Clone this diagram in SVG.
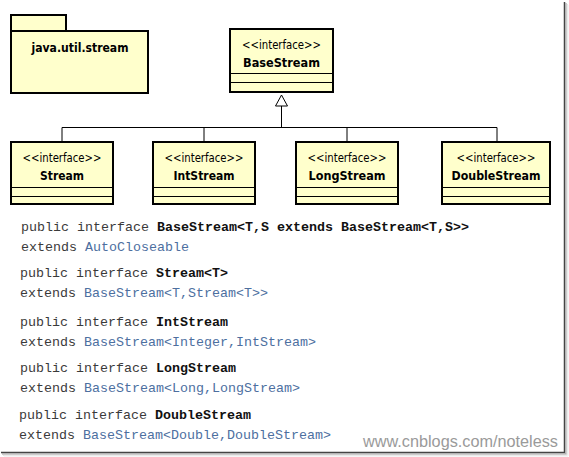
<svg xmlns="http://www.w3.org/2000/svg" width="569" height="457" viewBox="0 0 569 457">
<style>
.box{fill:#ffffcc;stroke:#000;stroke-width:2}
.sep{stroke:#000;stroke-width:1}
.st{font-family:"DejaVu Sans","Liberation Sans",sans-serif;font-size:12px;fill:#000;text-anchor:middle}
.nm{font-family:"DejaVu Sans","Liberation Sans",sans-serif;font-size:13px;font-weight:bold;fill:#000;text-anchor:middle}
.conn{fill:none;stroke:#000;stroke-width:1}
.code{font-family:"Liberation Mono","Courier New",monospace;font-size:13.33px;fill:#3a3a3a}
.b{font-weight:bold;fill:#111}
.t{fill:#4d6f9f}
.wm{font-family:"Liberation Sans",Arial,sans-serif;font-size:16px;fill:#9a9a9a}
</style>
<rect width="569" height="457" fill="#fff"/>
<g id="package">
<rect class="box" x="11" y="15" width="55" height="16"/>
<rect class="box" x="11" y="31" width="137" height="62"/>
<text class="nm" x="80" y="52" textLength="97" lengthAdjust="spacingAndGlyphs">java.util.stream</text>
</g>
<g id="connectors">
<line class="conn" x1="281.5" y1="106" x2="281.5" y2="127.5"/>
<polyline class="conn" points="62,142 62,127.5 497,127.5 497,142"/>
<line class="conn" x1="204" y1="127.5" x2="204" y2="142"/>
<line class="conn" x1="347" y1="127.5" x2="347" y2="142"/>
<polygon points="281.5,95 275.5,106 287.5,106" fill="#fff" stroke="#000" stroke-width="1"/>
</g>
<g id="BaseStream">
<rect class="box" x="230" y="29" width="103" height="63"/>
<line class="sep" x1="230" y1="73.5" x2="333" y2="73.5"/>
<line class="sep" x1="230" y1="82.5" x2="333" y2="82.5"/>
<text class="st" x="281.5" y="49" textLength="79" lengthAdjust="spacingAndGlyphs">&lt;&lt;interface&gt;&gt;</text>
<text class="nm" x="281.5" y="66.5" textLength="77" lengthAdjust="spacingAndGlyphs">BaseStream</text>
</g>
<g id="Stream">
<rect class="box" x="11" y="142" width="102" height="62"/>
<line class="sep" x1="11" y1="187.5" x2="113" y2="187.5"/>
<line class="sep" x1="11" y1="196.5" x2="113" y2="196.5"/>
<text class="st" x="62" y="162" textLength="79" lengthAdjust="spacingAndGlyphs">&lt;&lt;interface&gt;&gt;</text>
<text class="nm" x="62" y="179.5" textLength="44" lengthAdjust="spacingAndGlyphs">Stream</text>
</g>
<g id="IntStream">
<rect class="box" x="153" y="142" width="102" height="62"/>
<line class="sep" x1="153" y1="187.5" x2="255" y2="187.5"/>
<line class="sep" x1="153" y1="196.5" x2="255" y2="196.5"/>
<text class="st" x="204" y="162" textLength="79" lengthAdjust="spacingAndGlyphs">&lt;&lt;interface&gt;&gt;</text>
<text class="nm" x="204" y="179.5" textLength="61" lengthAdjust="spacingAndGlyphs">IntStream</text>
</g>
<g id="LongStream">
<rect class="box" x="296" y="142" width="102" height="62"/>
<line class="sep" x1="296" y1="187.5" x2="398" y2="187.5"/>
<line class="sep" x1="296" y1="196.5" x2="398" y2="196.5"/>
<text class="st" x="347" y="162" textLength="79" lengthAdjust="spacingAndGlyphs">&lt;&lt;interface&gt;&gt;</text>
<text class="nm" x="347" y="179.5" textLength="77" lengthAdjust="spacingAndGlyphs">LongStream</text>
</g>
<g id="DoubleStream">
<rect class="box" x="442" y="142" width="108" height="62"/>
<line class="sep" x1="442" y1="187.5" x2="550" y2="187.5"/>
<line class="sep" x1="442" y1="196.5" x2="550" y2="196.5"/>
<text class="st" x="496" y="162" textLength="79" lengthAdjust="spacingAndGlyphs">&lt;&lt;interface&gt;&gt;</text>
<text class="nm" x="496" y="179.5" textLength="89" lengthAdjust="spacingAndGlyphs">DoubleStream</text>
</g>
<g id="code">
<text class="code" x="21" y="231">public interface <tspan class="b">BaseStream&lt;T,S extends BaseStream&lt;T,S&gt;&gt;</tspan></text>
<text class="code" x="21" y="251">extends <tspan class="t">AutoCloseable</tspan></text>
<text class="code" x="20" y="277">public interface <tspan class="b">Stream&lt;T&gt;</tspan></text>
<text class="code" x="20" y="297">extends <tspan class="t">BaseStream&lt;T,Stream&lt;T&gt;&gt;</tspan></text>
<text class="code" x="20" y="326">public interface <tspan class="b">IntStream</tspan></text>
<text class="code" x="20" y="346">extends <tspan class="t">BaseStream&lt;Integer,IntStream&gt;</tspan></text>
<text class="code" x="20" y="372">public interface <tspan class="b">LongStream</tspan></text>
<text class="code" x="20" y="392">extends <tspan class="t">BaseStream&lt;Long,LongStream&gt;</tspan></text>
<text class="code" x="19" y="419">public interface <tspan class="b">DoubleStream</tspan></text>
<text class="code" x="19" y="439">extends <tspan class="t">BaseStream&lt;Double,DoubleStream&gt;</tspan></text>
</g>
<text class="wm" x="363" y="447" textLength="195" lengthAdjust="spacingAndGlyphs">www.cnblogs.com/noteless</text>
<g id="frame">
<line x1="564.5" y1="2" x2="564.5" y2="453" stroke="#444" stroke-width="1.5"/>
<line x1="566" y1="3" x2="566" y2="454" stroke="#999" stroke-width="1"/>
<line x1="567" y1="4" x2="567" y2="455" stroke="#ccc" stroke-width="1"/>
<line x1="568" y1="5" x2="568" y2="456" stroke="#eee" stroke-width="1"/>
<line x1="1" y1="452.5" x2="565" y2="452.5" stroke="#444" stroke-width="1.5"/>
<line x1="2" y1="454" x2="566" y2="454" stroke="#999" stroke-width="1"/>
<line x1="3" y1="455" x2="567" y2="455" stroke="#ccc" stroke-width="1"/>
<line x1="4" y1="456" x2="568" y2="456" stroke="#eee" stroke-width="1"/>
</g>
</svg>
